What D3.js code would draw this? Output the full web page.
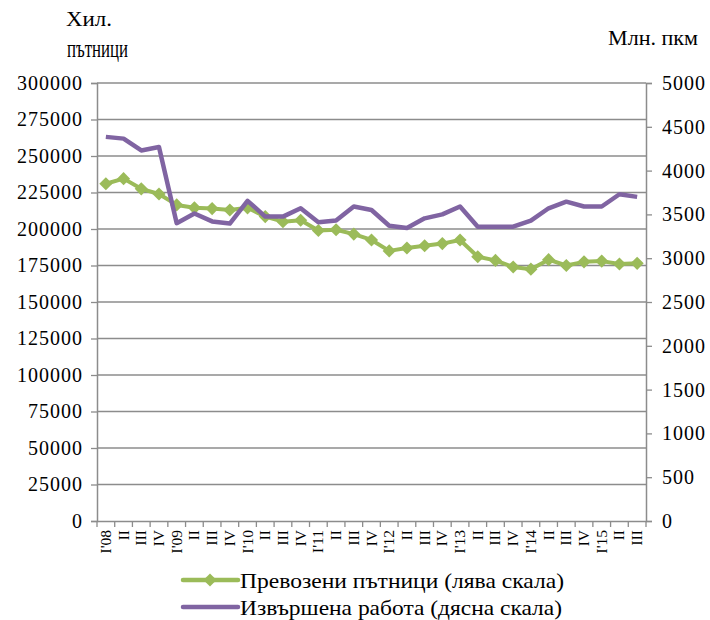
<!DOCTYPE html>
<html><head><meta charset="utf-8">
<script src="https://cdn.jsdelivr.net/npm/d3@7"></script>
<style>body{margin:0;background:#fff}svg text{font-family:"Liberation Serif","Times New Roman",serif !important}</style>
</head><body><svg id="c" width="710" height="620"></svg>
<script>
const categories = ["I'08","II","III","IV","I'09","II","III","IV","I'10","II","III","IV","I'11","II","III","IV","I'12","II","III","IV","I'13","II","III","IV","I'14","II","III","IV","I'15","II","III"];
const passengers = [231000,234500,227500,224000,216500,214500,214000,213000,214500,208500,205000,206000,199000,199500,196500,192500,185000,187000,188500,190000,192500,181000,178500,174000,172500,179000,175000,177500,178000,176000,176500];
const work = [4385,4365,4230,4270,3400,3510,3420,3395,3655,3475,3475,3570,3410,3430,3590,3550,3370,3345,3455,3500,3590,3360,3360,3360,3430,3570,3645,3590,3590,3730,3700];
const leftTicks = d3.range(0,300001,25000);
const rightTicks = d3.range(0,5001,500);
const seriesNames = ["Превозени  пътници (лява скала)","Извършена  работа (дясна скала)"];
const colors = ["#9BBB59","#8064A2"];

const svg = d3.select("#c");
const L=97, R=646, T=83, B=521;
const x = d3.scaleBand().domain(d3.range(categories.length)).range([L,R]);
const yL = d3.scaleLinear().domain([0,300000]).range([B,T]);
const yR = d3.scaleLinear().domain([0,5000]).range([B,T]);

svg.append("g").selectAll("line").data(leftTicks.slice(1)).join("line")
  .attr("x1",L).attr("x2",R).attr("y1",d=>yL(d)).attr("y2",d=>yL(d))
  .attr("stroke","#8c8c8c").attr("stroke-width",1.3);

const axL = svg.append("g").attr("transform",`translate(${L},0)`)
  .call(d3.axisLeft(yL).tickValues(leftTicks).tickSize(6).tickPadding(8).tickFormat(d3.format("d")));
const axR = svg.append("g").attr("transform",`translate(${R},0)`)
  .call(d3.axisRight(yR).tickValues(rightTicks).tickSize(6).tickPadding(10).tickFormat(d3.format("d")));
const axB = svg.append("g").attr("transform",`translate(0,${B})`)
  .call(d3.axisBottom(x).tickValues([]).tickSize(0));
axB.selectAll(".bt").data(d3.range(categories.length+1)).join("line").attr("class","bt")
  .attr("x1",i=>L+i*x.step()).attr("x2",i=>L+i*x.step()).attr("y1",0).attr("y2",6)
  .attr("stroke","#8c8c8c").attr("stroke-width",1.3);
axB.selectAll(".cl").data(categories).join("text").attr("class","cl")
  .attr("transform",(d,i)=>`translate(${x(i)+x.bandwidth()/2+5},9) rotate(-90)`)
  .attr("text-anchor","end").attr("font-size",15.5).attr("fill","#000").text(d=>d);

[axL,axR,axB].forEach(a=>{
  a.selectAll(".domain").attr("stroke","#8c8c8c").attr("stroke-width",1.5);
  a.selectAll(".tick line").attr("stroke","#8c8c8c").attr("stroke-width",1.3);
  a.selectAll(".tick text").attr("font-size",20).attr("letter-spacing","1px").attr("fill","#000");
});

const cx = i => x(i)+x.bandwidth()/2;
const lineL = d3.line().x((d,i)=>cx(i)).y(d=>yL(d));
const lineR = d3.line().x((d,i)=>cx(i)).y(d=>yR(d));
svg.append("path").attr("d",lineL(passengers)).attr("fill","none").attr("stroke",colors[0]).attr("stroke-width",4).attr("stroke-linejoin","round");
const diamond = d3.symbol().type(d3.symbolDiamond2).size(110);
svg.append("g").selectAll("path").data(passengers).join("path")
  .attr("transform",(d,i)=>`translate(${cx(i)},${yL(d)})`)
  .attr("d",diamond).attr("fill",colors[0]);
svg.append("path").attr("d",lineR(work)).attr("fill","none").attr("stroke",colors[1]).attr("stroke-width",4.5).attr("stroke-linejoin","round");

svg.append("text").attr("x",66).attr("y",26).attr("font-size",21).attr("textLength",46).attr("lengthAdjust","spacingAndGlyphs").text("Хил.");
svg.append("text").attr("x",67).attr("y",57).attr("font-size",25).attr("textLength",61).attr("lengthAdjust","spacingAndGlyphs").text("пътници");
svg.append("text").attr("x",608).attr("y",45).attr("font-size",21).attr("textLength",90).attr("lengthAdjust","spacingAndGlyphs").text("Млн. пкм");

const lg = svg.append("g");
const legW = [324,322];
[0,1].forEach(k=>{
  const yy = 580 + k*27;
  lg.append("line").attr("x1",183).attr("x2",238).attr("y1",yy).attr("y2",yy).attr("stroke",colors[k]).attr("stroke-width",4.5).attr("stroke-linecap","round");
  if(k===0) lg.append("path").attr("transform",`translate(210,${yy})`).attr("d",diamond).attr("fill",colors[0]);
  lg.append("text").attr("x",240).attr("y",yy+8).attr("font-size",21).attr("textLength",legW[k]).attr("lengthAdjust","spacingAndGlyphs").text(seriesNames[k]);
});
</script></body></html>
